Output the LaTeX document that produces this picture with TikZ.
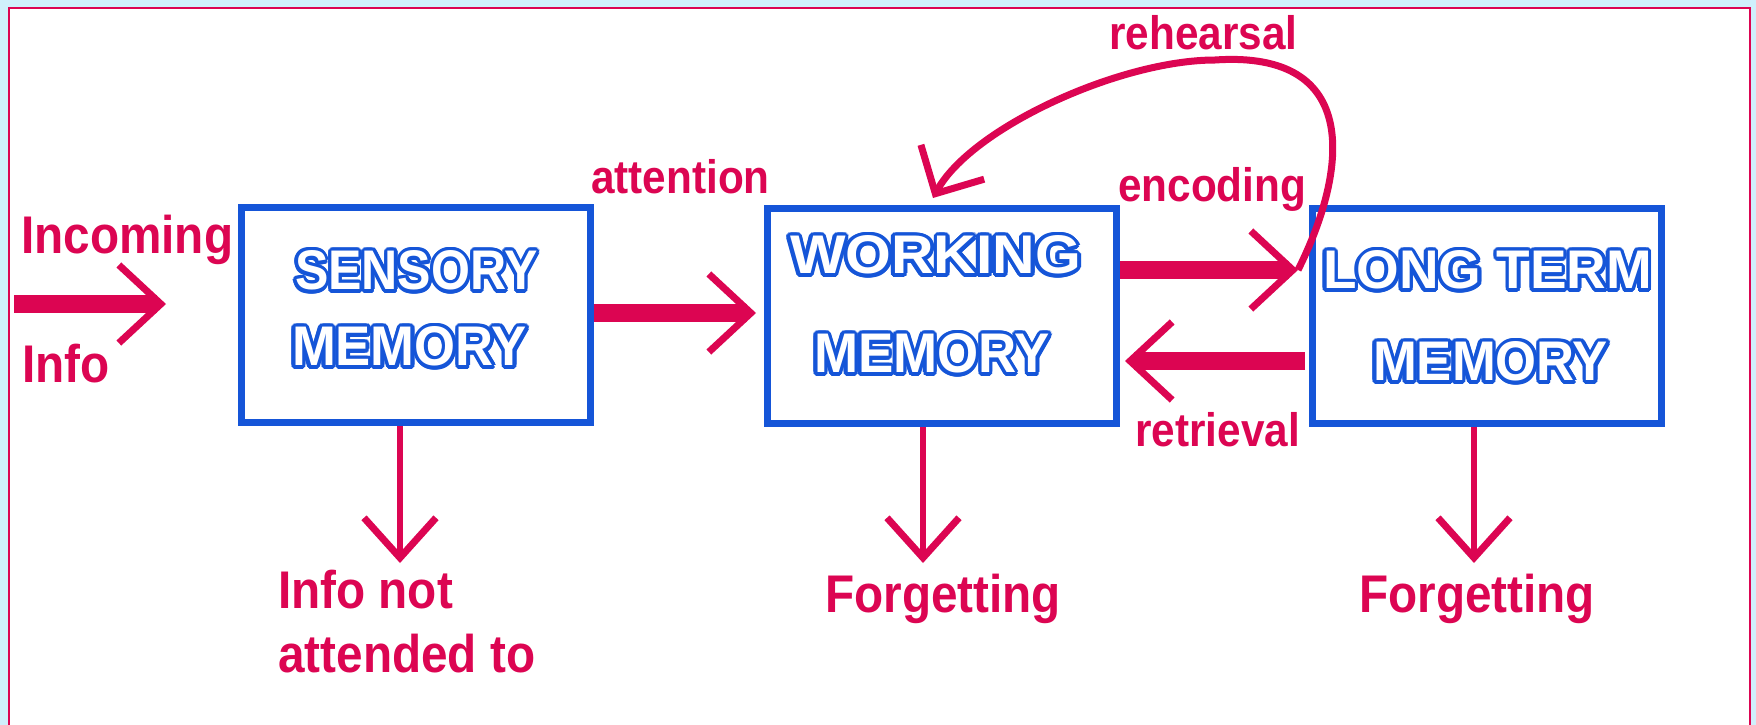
\documentclass[tikz,border=0pt]{standalone}
\usepackage{fontspec}
\setmainfont{Liberation Sans}
\newfontfamily\labfont{Liberation Sans}[FakeStretch=0.9]
\usepackage{contour}
\contourlength{3.6pt}
\usetikzlibrary{arrows.meta}
\definecolor{bgblue}{RGB}{208,240,252}
\definecolor{cpink}{RGB}{220,5,82}
\definecolor{cblue}{RGB}{21,85,216}
\newcommand\bxt[3]{\resizebox{#1}{#2}{\bfseries\fontsize{56}{60}\selectfont\color{white}\contour{cblue}{#3}}}
\begin{document}
\begin{tikzpicture}[x=1pt,y=-1pt,
  membox/.style={draw=cblue, line width=7pt, fill=white, minimum width=349pt, minimum height=215pt, inner sep=0pt},
  boxlabel/.style={inner sep=0pt},
  biglab/.style={text=cpink, inner sep=0pt, anchor=base west, font=\labfont\bfseries\fontsize{53}{60}\selectfont},
  smalllab/.style={biglab, font=\labfont\bfseries\fontsize{47}{54}\selectfont},
  fat/.style={draw=cpink, line width=18pt, -{Straight Barb[line width=7pt, length=42pt, width=78pt]}},
  slimarrow/.style={draw=cpink, line width=6pt, -{Straight Barb[line width=7pt, length=40pt, width=72pt]}},
  curvearrow/.style={draw=cpink, line width=7pt, -{Straight Barb[line width=7pt, length=36pt, width=72pt]}}
]
\useasboundingbox (0,0) rectangle (1756,725);
\clip (0,0) rectangle (1756,725);
\fill[bgblue] (0,0) rectangle (1756,725);
\draw[cpink, line width=2.5pt, fill=white] (9,8) rectangle (1750,740);

% boxes
\node[membox] (sens) at (416,315) {};
\node[membox] (work) at (942,316) {};
\node[membox] (ltm) at (1487,316) {};

\node[boxlabel] (sensA) at (416.5,272.5) {\bxt{243pt}{39pt}{SENSORY}};
\node[boxlabel] (sensB) at (409.5,348.5) {\bxt{235pt}{39pt}{MEMORY}};
\node[boxlabel] (workA) at (935.5,257) {\bxt{291pt}{38pt}{WORKING}};
\node[boxlabel] (workB) at (932,355.5) {\bxt{236pt}{39pt}{MEMORY}};
\node[boxlabel] (ltmA) at (1487.5,272) {\bxt{329pt}{38pt}{LONG TERM}};
\node[boxlabel] (ltmB) at (1490.5,363.5) {\bxt{235pt}{39pt}{MEMORY}};

% labels
\node[biglab] (inc) at (21,253) {Incoming};
\node[biglab] (info) at (22,382) {Info};
\node[smalllab] (att) at (591,193) {attention};
\node[smalllab] (reh) at (1109,50) {rehearsal};
\node[smalllab] (enc) at (1118,201) {encoding};
\node[smalllab] (ret) at (1135,446) {retrieval};
\node[biglab] (nat1) at (278,608) {Info not};
\node[biglab] (nat2) at (278,672) {attended to};
\node[biglab] (fg1) at (825,612) {Forgetting};
\node[biglab] (fg2) at (1359,612) {Forgetting};

% coordinates
\coordinate (inS) at (14,304);
\coordinate (inT) at (166,304);
\coordinate (attT) at (756,313);
\coordinate (encT) at (1298,270);
\coordinate (retS) at (1305,361);
\coordinate (retT) at (1125,361);
\coordinate (d1) at (400,563);
\coordinate (d2) at (923,563);
\coordinate (d3) at (1474,563);
\coordinate (rehTop) at (1215,60);
\coordinate (rehT) at (933,198);

% arrows
\draw[fat] (inS) -- (inT);
\draw[fat] (sens.east |- attT) -- (attT);
\draw[fat] (work.east |- encT) -- (encT);
\draw[fat] (retS) -- (retT);
\draw[slimarrow] (sens.south -| d1) -- (d1);
\draw[slimarrow] (work.south -| d2) -- (d2);
\draw[slimarrow] (ltm.south -| d3) -- (d3);
\draw[curvearrow] (encT) .. controls (1348,170) and (1362,50) .. (rehTop)
  .. controls (1120,60) and (971,128) .. (rehT);
\end{tikzpicture}
\end{document}
